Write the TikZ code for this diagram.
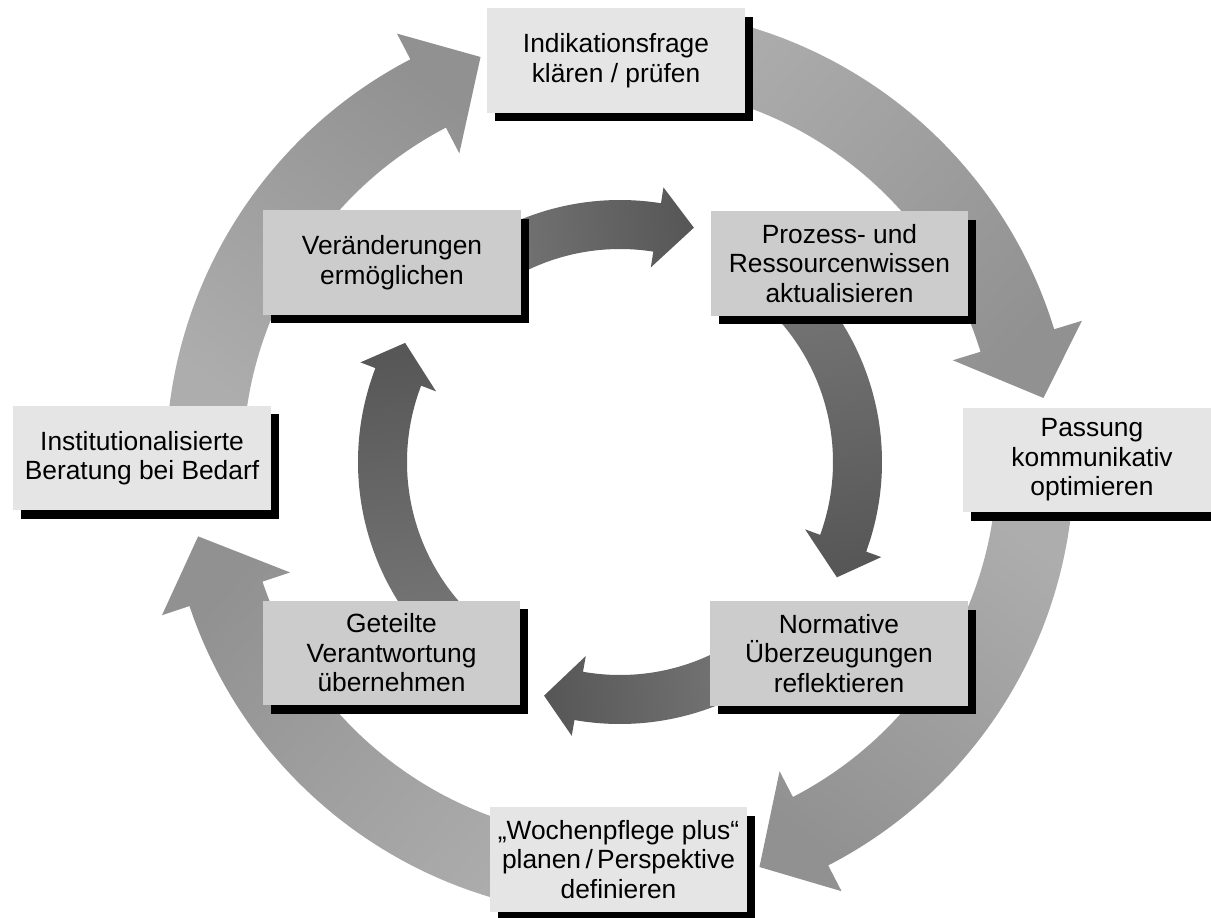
\documentclass[tikz,border=0pt]{standalone}
\usepackage{fontspec}
\setmainfont{Liberation Sans}
\usetikzlibrary{shadows}

\definecolor{boxhell}{gray}{0.90}
\definecolor{boxmittel}{gray}{0.80}
\definecolor{aussenhell}{gray}{0.68}
\definecolor{aussendunkel}{gray}{0.57}
\definecolor{innenhell}{gray}{0.46}
\definecolor{innendunkel}{gray}{0.34}

% #1 style, #2 inner radius, #3 outer radius, #4 barb, #5 tail angle, #6 head base angle, #7 tip angle
\newcommand{\ringpfeil}[7]{%
\pgfmathsetmacro\pfeilwinkel{(#5+#7)/2-180}
\shade[#1, shading angle=\pfeilwinkel] ({#5}:{#3}) arc[start angle=#5, end angle=#6, radius=#3]
 -- ({#6}:{#3+#4}) -- ({#7}:{(#2+#3)/2+(#3-#2)/6}) -- ({#6}:{#2-#4}) -- ({#6}:{#2})
 arc[start angle=#6, end angle=#5, radius=#2] -- cycle;}

\begin{document}
\begin{tikzpicture}[x=0.02cm, y=0.02cm,
 kasten/.style={minimum width=5.16cm, minimum height=2.1cm, inner sep=0pt, align=center,
  font=\fontsize{15}{16.8}\selectfont,
  drop shadow={shadow xshift=0.16cm, shadow yshift=-0.17cm, fill=black, opacity=1}},
 aussenbox/.style={kasten, fill=boxhell},
 innenbox/.style={kasten, fill=boxmittel},
 aussenpfeil/.style={bottom color=aussenhell, top color=aussendunkel},
 innenpfeil/.style={bottom color=innenhell, top color=innendunkel}]
\useasboundingbox[fill=white] (-620,-455) rectangle (591,462);

\ringpfeil{aussenpfeil}{377}{454}{29}{178}{117.5}{109}
\ringpfeil{aussenpfeil}{377}{454}{29}{88}{17}{8.6}
\ringpfeil{aussenpfeil}{377}{454}{29}{-2}{-62.7}{-71}
\ringpfeil{aussenpfeil}{377}{454}{29}{-92}{-161.5}{-170}

\ringpfeil{innenpfeil}{213}{262}{16}{120}{81}{72.5}
\ringpfeil{innenpfeil}{213}{262}{16}{45}{-20}{-28}
\ringpfeil{innenpfeil}{213}{262}{16}{-62}{-100}{-108}
\ringpfeil{innenpfeil}{213}{262}{16}{222}{159}{151}

\node(indikation)[aussenbox] at (-4,401.5) {Indikationsfrage\\klären / prüfen};
\node(passung)[aussenbox] at (472,2) {Passung\\kommunikativ\\optimieren};
\node(wochenpflege)[aussenbox] at (-1.5,-397.5) {„Wochenpflege plus“\\planen\,/\,Perspektive\\definieren};
\node(beratung)[aussenbox] at (-478,4) {Institutionalisierte\\Beratung bei Bedarf};

\node(veraenderung)[innenbox] at (-228,199.5) {Veränderungen\\ermöglichen};
\node(prozess)[innenbox] at (219.5,198.5) {Prozess- und\\Ressourcenwissen\\aktualisieren};
\node(normativ)[innenbox] at (219,-191.5) {Normative\\Überzeugungen\\reflektieren};
\node(geteilt)[innenbox] at (-228.5,-191) {Geteilte\\Verantwortung\\übernehmen};
\end{tikzpicture}
\end{document}
